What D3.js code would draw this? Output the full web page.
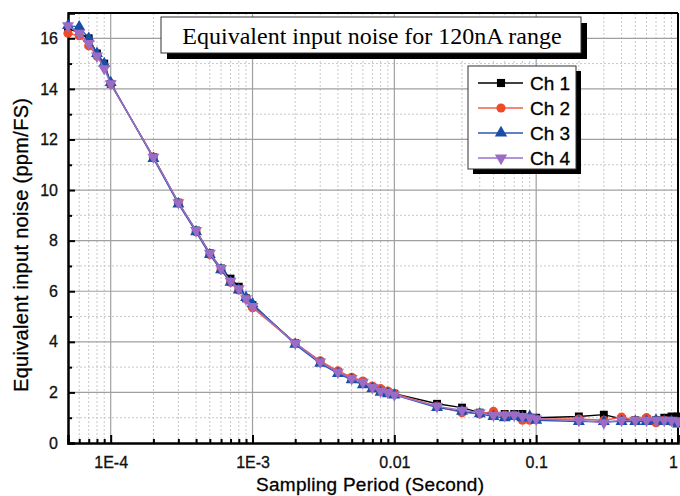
<!DOCTYPE html>
<html>
<head>
<meta charset="utf-8">
<script src="https://cdn.jsdelivr.net/npm/d3@7"></script>
<style>
  body { margin: 0; background: #fff; }
  svg { display: block; font-family: "Liberation Sans", Arial, sans-serif; }
</style>
</head>
<body>
<svg id="chart" width="680" height="496"></svg>
<script>
// sampling periods (s)
const periods = [5e-5, 6e-5, 7e-5, 8e-5, 9e-5, 1e-4, 2e-4, 3e-4, 4e-4, 5e-4, 6e-4, 7e-4, 8e-4, 9e-4,
  1e-3, 2e-3, 3e-3, 4e-3, 5e-3, 6e-3, 7e-3, 8e-3, 9e-3, 0.01, 0.02, 0.03, 0.04, 0.05, 0.06, 0.07,
  0.08, 0.09, 0.1, 0.2, 0.3, 0.4, 0.5, 0.6, 0.7, 0.8, 0.9, 1];

const ch1 = [16.4, 16.2, 16.0, 15.4, 15.0, 14.2, 11.3, 9.5, 8.4, 7.5, 6.9, 6.5, 6.18, 5.72, 5.45,
  3.95, 3.2, 2.8, 2.55, 2.4, 2.2, 2.1, 2.0, 1.95, 1.55, 1.4, 1.2, 1.15, 1.15, 1.15, 1.15, 1.0, 1.0,
  1.05, 1.12, 0.95, 0.9, 0.95, 0.9, 1.0, 1.05, 1.05];
const ch2 = [16.2, 16.1, 15.7, 15.3, 14.9, 14.2, 11.3, 9.5, 8.35, 7.45, 6.85, 6.35, 6.05, 5.7, 5.35,
  3.95, 3.25, 2.85, 2.6, 2.45, 2.25, 2.15, 2.05, 1.95, 1.45, 1.2, 1.15, 1.25, 1.1, 1.1, 0.9, 0.9, 0.95,
  0.95, 0.9, 1.02, 0.9, 1.0, 0.8, 0.9, 0.85, 0.85];
const ch3 = [16.5, 16.45, 16.0, 15.4, 15.0, 14.25, 11.25, 9.45, 8.35, 7.45, 6.85, 6.35, 6.05, 5.75, 5.5,
  3.9, 3.15, 2.75, 2.5, 2.3, 2.15, 2.0, 1.95, 1.9, 1.4, 1.25, 1.15, 1.05, 1.0, 1.05, 1.0, 1.05, 0.9,
  0.85, 0.85, 0.85, 0.85, 0.85, 0.9, 0.85, 0.85, 0.75];
const ch4 = [16.5, 16.2, 15.8, 15.3, 14.8, 14.2, 11.3, 9.5, 8.4, 7.5, 6.9, 6.4, 6.1, 5.7, 5.4,
  3.95, 3.2, 2.8, 2.55, 2.4, 2.2, 2.05, 2.0, 1.9, 1.45, 1.3, 1.2, 1.1, 1.1, 1.1, 1.05, 1.0, 0.95,
  0.9, 0.8, 0.9, 0.9, 0.9, 0.9, 0.9, 0.9, 0.85];

const seriesNames = ["Ch 1", "Ch 2", "Ch 3", "Ch 4"];
const seriesValues = [ch1, ch2, ch3, ch4];
const lineColors = ["#000000", "#f06048", "#2a58b0", "#9a70c8"];
const markColors = ["#000000", "#f04a28", "#1a4ea6", "#9a6cc6"];
const markShapes = [d3.symbolSquare, d3.symbolCircle, d3.symbolTriangle, "down"];

const xMajor = [1e-4, 1e-3, 0.01, 0.1, 1];
const xMajorLabels = ["1E-4", "1E-3", "0.01", "0.1", "1"];
const yMajor = [0, 2, 4, 6, 8, 10, 12, 14, 16];

const titleText = "Equivalent input noise for 120nA range";

const width = 680, height = 496;
const margin = { top: 13, right: 2, bottom: 53, left: 68 };
const innerWidth = width - margin.left - margin.right;
const innerHeight = height - margin.top - margin.bottom;

const svg = d3.select("#chart");
const g = svg.append("g").attr("transform", `translate(${margin.left},${margin.top})`);

const xScale = d3.scaleLog().domain([5e-5, 1]).range([0, innerWidth]);
const yScale = d3.scaleLinear().domain([0, 17]).range([innerHeight, 0]);

// minor x values (2..9 of each decade)
const xMinor = [];
[1e-5, 1e-4, 1e-3, 0.01, 0.1].forEach(d => {
  for (let k = 2; k <= 9; k++) {
    const v = d * k;
    if (v >= 5e-5 && v < 1) xMinor.push(v);
  }
});
const yMinor = d3.range(1, 17, 2);

// grid
g.selectAll(".xminor").data(xMinor).join("line").attr("class", "xminor")
  .attr("x1", d => xScale(d)).attr("x2", d => xScale(d)).attr("y1", 0).attr("y2", innerHeight)
  .attr("stroke", "#c8c8c8").attr("stroke-width", 1).attr("stroke-dasharray", "2,2");
g.selectAll(".yminor").data(yMinor).join("line").attr("class", "yminor")
  .attr("y1", d => yScale(d)).attr("y2", d => yScale(d)).attr("x1", 0).attr("x2", innerWidth)
  .attr("stroke", "#c8c8c8").attr("stroke-width", 1).attr("stroke-dasharray", "2,2");
g.selectAll(".xmajor").data(xMajor).join("line").attr("class", "xmajor")
  .attr("x1", d => xScale(d)).attr("x2", d => xScale(d)).attr("y1", 0).attr("y2", innerHeight)
  .attr("stroke", "#a0a0a0").attr("stroke-width", 1.2);
g.selectAll(".ymajor").data(yMajor.slice(1)).join("line").attr("class", "ymajor")
  .attr("y1", d => yScale(d)).attr("y2", d => yScale(d)).attr("x1", 0).attr("x2", innerWidth)
  .attr("stroke", "#a0a0a0").attr("stroke-width", 1.2);

// axes with inward ticks
g.append("g").attr("transform", `translate(0,${innerHeight})`)
  .call(d3.axisBottom(xScale).tickValues(xMajor).tickSize(-8).tickPadding(14)
    .tickFormat((d, i) => xMajorLabels[i]))
  .call(a => a.selectAll(".tick text").filter(d => d === 1).attr("dx", -5));
g.append("g").attr("transform", `translate(0,${innerHeight})`)
  .call(d3.axisBottom(xScale).tickValues(xMinor).tickSize(-4).tickFormat(""))
  .call(a => a.select(".domain").remove())
  .call(a => a.selectAll("text").remove());
g.append("g")
  .call(d3.axisLeft(yScale).tickValues(yMajor).tickSize(-7).tickPadding(10));
g.append("g").call(d3.axisLeft(yScale).tickValues(yMinor).tickSize(-4).tickFormat(""))
  .call(a => a.select(".domain").remove())
  .call(a => a.selectAll("text").remove());

g.selectAll(".tick line").attr("stroke", "#000").attr("stroke-width", 2);
g.selectAll(".domain").attr("stroke", "#000").attr("stroke-width", 2.5);
g.selectAll(".tick text").attr("font-size", 16).attr("fill", "#111")
  .attr("stroke", "#111").attr("stroke-width", 0.3)
  .attr("font-family", "Liberation Sans, Arial, sans-serif");

// frame top/right
g.append("line").attr("x1", 0).attr("x2", innerWidth).attr("y1", 0).attr("y2", 0)
  .attr("stroke", "#000").attr("stroke-width", 2);
g.append("line").attr("x1", innerWidth).attr("x2", innerWidth).attr("y1", 0).attr("y2", innerHeight)
  .attr("stroke", "#000").attr("stroke-width", 2);

// series
const line = d3.line().x(d => xScale(d[0])).y(d => yScale(d[1]));
function symbolPath(shape, size) {
  if (shape === "down") {
    return d3.symbol().type(d3.symbolTriangle).size(size)();
  }
  return d3.symbol().type(shape).size(size)();
}

seriesValues.forEach((vals, s) => {
  const pts = periods.map((p, i) => [p, vals[i]]);
  g.append("path").datum(pts).attr("d", line).attr("fill", "none")
    .attr("stroke", lineColors[s]).attr("stroke-width", 1.4);
  const size = s === 1 ? 66 : 62;
  g.selectAll(".m" + s).data(pts).join("path").attr("class", "m" + s)
    .attr("d", symbolPath(markShapes[s], size))
    .attr("transform", d => `translate(${xScale(d[0])},${yScale(d[1])})` + (markShapes[s] === "down" ? " rotate(180)" : ""))
    .attr("fill", markColors[s]);
});

// title box
const tb = { x: 161, y: 17, w: 420, h: 36 };
svg.append("rect").attr("x", tb.x + 6).attr("y", tb.y + 6).attr("width", tb.w).attr("height", tb.h).attr("fill", "#000");
svg.append("rect").attr("x", tb.x).attr("y", tb.y).attr("width", tb.w).attr("height", tb.h)
  .attr("fill", "#fff").attr("stroke", "#333").attr("stroke-width", 1);
svg.append("text").attr("x", tb.x + tb.w / 2 + 1).attr("y", tb.y + 27).attr("text-anchor", "middle")
  .attr("font-family", "Liberation Serif, Times New Roman, serif").attr("font-size", 24).attr("fill", "#000")
  .text(titleText);

// legend
const lb = { x: 468, y: 66, w: 108, h: 103 };
svg.append("rect").attr("x", lb.x + 5).attr("y", lb.y + 5).attr("width", lb.w).attr("height", lb.h).attr("fill", "#000");
svg.append("rect").attr("x", lb.x).attr("y", lb.y).attr("width", lb.w).attr("height", lb.h)
  .attr("fill", "#fff").attr("stroke", "#333").attr("stroke-width", 1);
const legend = svg.append("g").selectAll("g").data(seriesNames).join("g")
  .attr("transform", (d, i) => `translate(${lb.x},${lb.y + 17 + i * 25})`);
legend.append("line").attr("x1", 10).attr("x2", 55).attr("y1", 0).attr("y2", 0)
  .attr("stroke", (d, i) => lineColors[i]).attr("stroke-width", 1.5);
legend.append("path")
  .attr("d", (d, i) => symbolPath(markShapes[i], 66))
  .attr("transform", (d, i) => `translate(33,0)` + (markShapes[i] === "down" ? " rotate(180)" : ""))
  .attr("fill", (d, i) => markColors[i]);
legend.append("text").attr("x", 62).attr("y", 7).attr("font-size", 19).attr("fill", "#000")
  .attr("stroke", "#000").attr("stroke-width", 0.3)
  .text(d => d);

// axis titles
svg.append("text").attr("x", 370).attr("y", 491).attr("text-anchor", "middle")
  .attr("font-size", 19).attr("fill", "#000").attr("stroke", "#000").attr("stroke-width", 0.3)
  .attr("textLength", 228).attr("lengthAdjust", "spacing")
  .text("Sampling Period (Second)");
svg.append("text").attr("transform", `translate(28,245) rotate(-90)`)
  .attr("text-anchor", "middle").attr("font-size", 20).attr("fill", "#000")
  .attr("stroke", "#000").attr("stroke-width", 0.3)
  .attr("textLength", 294).attr("lengthAdjust", "spacing")
  .text("Equivalent input noise (ppm/FS)");
</script>
</body>
</html>
